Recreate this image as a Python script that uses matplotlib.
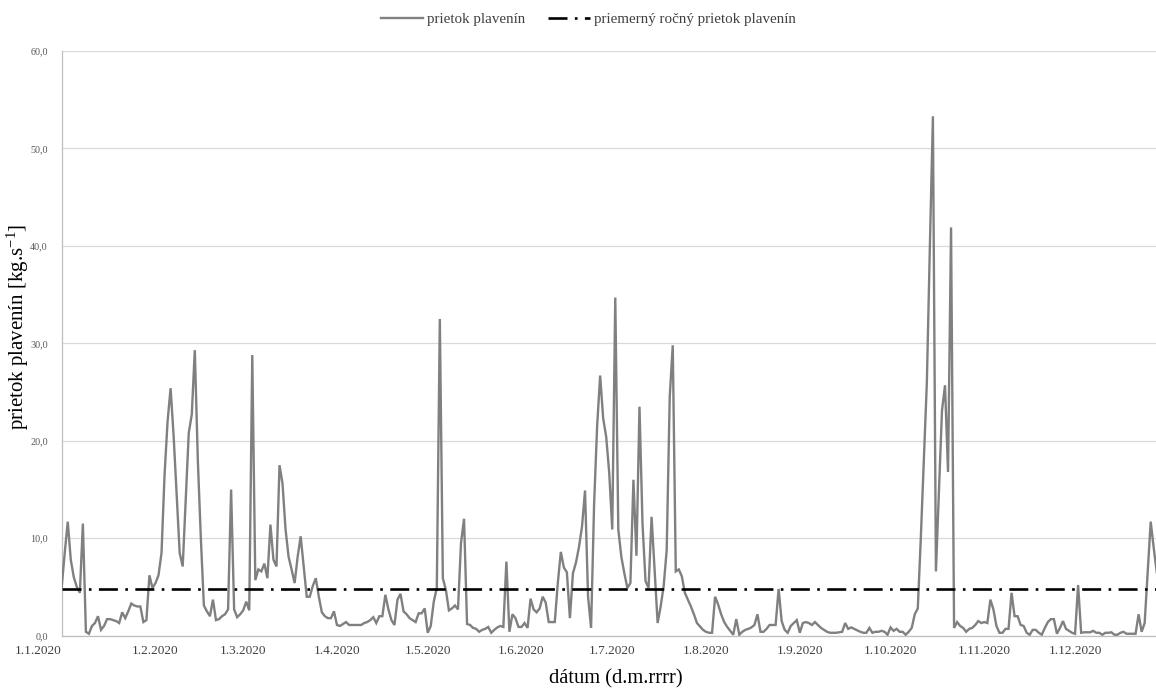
import matplotlib
matplotlib.use("Agg")
import matplotlib.pyplot as plt
import pandas as pd

# ---- data (daily values, starting 1.1.2020) ----
start_date = "2020-01-01"
flow = [
    5.0, 8.5, 11.7, 7.8, 6.0, 5.0, 4.4, 11.5, 0.4, 0.2,
    1.0, 1.3, 2.0, 0.6, 1.0, 1.7, 1.7, 1.6, 1.5, 1.3,
    2.4, 1.8, 2.5, 3.3, 3.1, 3.0, 3.0, 1.4, 1.6, 6.2,
    4.9, 5.4, 6.2, 8.5, 16.5, 22.0, 25.4, 20.5, 14.5, 8.5,
    7.1, 14.0, 20.8, 22.7, 29.3, 18.0, 10.0, 3.1, 2.5, 2.0,
    3.7, 1.6, 1.7, 2.0, 2.2, 2.7, 15.0, 2.7, 1.9, 2.2,
    2.6, 3.5, 2.6, 28.8, 5.7, 6.8, 6.6, 7.4, 5.9, 11.4,
    7.8, 7.1, 17.5, 15.6, 10.9, 8.1, 6.8, 5.4, 8.1, 10.2,
    7.1, 4.0, 4.0, 5.1, 5.9, 4.0, 2.4, 2.0, 1.8, 1.8,
    2.5, 1.1, 1.0, 1.2, 1.4, 1.1, 1.1, 1.1, 1.1, 1.1,
    1.3, 1.4, 1.6, 1.9, 1.3, 2.0, 2.0, 4.2, 2.7, 1.6,
    1.1, 3.7, 4.3, 2.5, 2.2, 1.8, 1.6, 1.4, 2.3, 2.3,
    2.8, 0.3, 1.0, 3.5, 4.9, 32.5, 5.9, 4.7, 2.6, 2.8,
    3.1, 2.7, 9.5, 12.0, 1.2, 1.1, 0.8, 0.7, 0.4, 0.6,
    0.7, 0.9, 0.3, 0.6, 0.85, 1.0, 0.9, 7.6, 0.4, 2.2,
    1.8, 0.9, 0.9, 1.3, 0.8, 3.8, 2.7, 2.4, 2.8, 4.0,
    3.4, 1.4, 1.4, 1.4, 5.4, 8.6, 7.0, 6.5, 1.8, 6.4,
    7.5, 9.1, 11.2, 14.9, 4.0, 0.8, 13.5, 21.5, 26.7, 22.3,
    20.4, 16.7, 10.9, 34.7, 10.9, 8.1, 6.4, 4.9, 5.4, 16.0,
    8.2, 23.5, 11.5, 5.6, 4.9, 12.2, 6.8, 1.3, 3.0, 5.1,
    8.8, 24.5, 29.8, 6.6, 6.8, 6.1, 4.4, 3.7, 3.0, 2.2,
    1.3, 0.95, 0.6, 0.4, 0.3, 0.3, 4.0, 3.2, 2.2, 1.4,
    0.9, 0.5, 0.1, 1.7, 0.1, 0.4, 0.6, 0.7, 0.85, 1.1,
    2.2, 0.4, 0.4, 0.7, 1.1, 1.1, 1.1, 4.8, 1.5, 0.6,
    0.3, 1.0, 1.3, 1.6, 0.3, 1.3, 1.4, 1.3, 1.1, 1.4,
    1.1, 0.8, 0.6, 0.4, 0.3, 0.3, 0.3, 0.35, 0.4, 1.3,
    0.7, 0.85, 0.7, 0.55, 0.4, 0.3, 0.3, 0.8, 0.3, 0.4,
    0.4, 0.5, 0.4, 0.1, 0.85, 0.5, 0.7, 0.4, 0.4, 0.1,
    0.4, 0.8, 2.2, 2.8, 10.0, 18.0, 26.0, 40.0, 53.3, 6.6,
    15.0, 23.1, 25.7, 16.8, 41.9, 0.8, 1.4, 1.0, 0.8, 0.4,
    0.7, 0.8, 1.1, 1.5, 1.3, 1.4, 1.3, 3.7, 2.7, 1.0,
    0.3, 0.3, 0.7, 0.7, 4.4, 2.0, 2.0, 1.1, 1.0, 0.3,
    0.1, 0.6, 0.6, 0.3, 0.1, 0.8, 1.4, 1.7, 1.7, 0.2,
    0.8, 1.5, 0.7, 0.5, 0.3, 0.2, 5.2, 0.3, 0.35, 0.35,
    0.35, 0.5, 0.3, 0.3, 0.1, 0.3, 0.3, 0.35, 0.1, 0.1,
    0.3, 0.4, 0.2, 0.2, 0.2, 0.2, 2.2, 0.4, 1.3, 6.5,
    11.7, 9.0, 6.5,
]
mean_flow = 4.78
month_ticks = ["2020-01-01", "2020-02-01", "2020-03-01", "2020-04-01",
               "2020-05-01", "2020-06-01", "2020-07-01", "2020-08-01",
               "2020-09-01", "2020-10-01", "2020-11-01", "2020-12-01"]
month_labels = ["1.1.2020", "1.2.2020", "1.3.2020", "1.4.2020", "1.5.2020",
                "1.6.2020", "1.7.2020", "1.8.2020", "1.9.2020", "1.10.2020",
                "1.11.2020", "1.12.2020"]
y_ticks = [0, 10, 20, 30, 40, 50, 60]
y_tick_labels = ["0,0", "10,0", "20,0", "30,0", "40,0", "50,0", "60,0"]

series_label = "prietok plavenín"
mean_label = "priemerný ročný prietok plavenín"
x_title = "dátum (d.m.rrrr)"
y_title = r"prietok plavenín [kg.s$^{\mathregular{-1}}$]"

# ---- figure ----
plt.rcParams["font.family"] = ["Liberation Serif", "DejaVu Serif"]
plt.rcParams["mathtext.default"] = "regular"

W, H = 1156, 691
fig = plt.figure(figsize=(W / 100, H / 100), dpi=100)
left_px, right_px, top_px, bottom_px = 61.7, 1156, 51.0, 635.7
ax = fig.add_axes([left_px / W, 1 - bottom_px / H,
                   (right_px - left_px) / W, (bottom_px - top_px) / H])

dates = pd.date_range(start_date, periods=len(flow), freq="D")
ax.plot(dates, flow, color="#808080", lw=1.7, label=series_label,
        solid_joinstyle="miter", zorder=3)
ax.axhline(mean_flow, color="black", lw=1.9,
           linestyle=(0, (7.2, 2.8, 1.0, 2.8)), label=mean_label, zorder=4)

x_start = pd.Timestamp(start_date)
ax.set_xlim(x_start, x_start + pd.Timedelta(days=361.75))
ax.set_ylim(0, 60)

ax.set_yticks(y_ticks)
ax.set_yticklabels(y_tick_labels)
ax.set_xticks([pd.Timestamp(t) for t in month_ticks])
ax.set_xticklabels(month_labels)
# the first date label sits to the left of the axis start, as in the original
ax.get_xticklabels()[0].set_horizontalalignment("right")

ax.tick_params(axis="y", length=0, pad=10, labelsize=7.3, labelcolor="#595959")
ax.tick_params(axis="x", length=0, pad=7, labelsize=9.5, labelcolor="#404040")

ax.grid(axis="y", color="#d9d9d9", lw=0.9)
ax.set_axisbelow(True)
for side in ["top", "right"]:
    ax.spines[side].set_visible(False)
for side in ["left", "bottom"]:
    ax.spines[side].set_color("#bfbfbf")
    ax.spines[side].set_linewidth(0.9)

fig.text(18 / W, 1 - 327 / H, y_title, rotation=90, ha="center", va="center",
         fontsize=15, color="black")
fig.text(616 / W, 1 - 679 / H, x_title, ha="center", va="center",
         fontsize=14.8, color="black")

leg = fig.legend(loc="center", bbox_to_anchor=(588.5 / W, 1 - 19.5 / H), ncol=2,
                 frameon=False, fontsize=10.8, handlelength=2.8,
                 columnspacing=1.5, handletextpad=0.3)
for t in leg.get_texts():
    t.set_color("#404040")

fig.savefig("out.png", dpi=100)
